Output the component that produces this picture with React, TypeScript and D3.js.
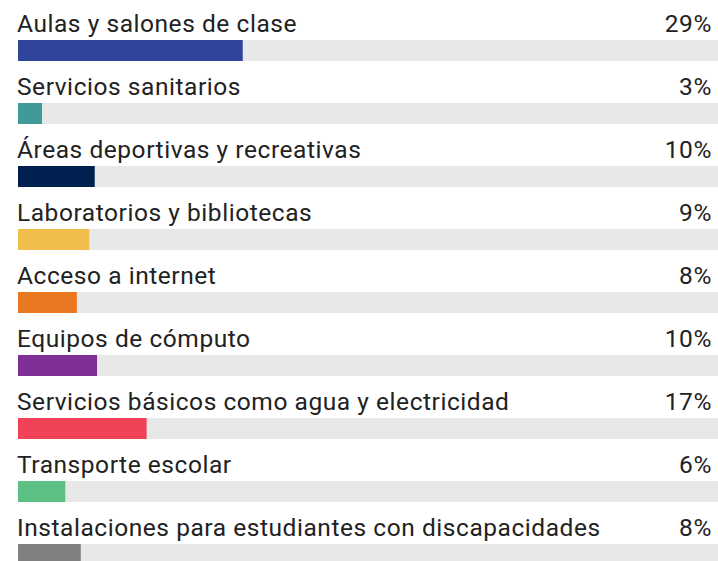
import React from "react";
import * as d3 from "d3";

const categories = [
  "Aulas y salones de clase",
  "Servicios sanitarios",
  "Áreas deportivas y recreativas",
  "Laboratorios y bibliotecas",
  "Acceso a internet",
  "Equipos de cómputo",
  "Servicios básicos como agua y electricidad",
  "Transporte escolar",
  "Instalaciones para estudiantes con discapacidades",
];
const values = [29.0, 3.1, 9.9, 9.2, 7.6, 10.2, 16.6, 6.1, 8.1];
const colors = [
  "#2f4599",
  "#419a9a",
  "#00204f",
  "#f0bd4a",
  "#e87722",
  "#7f2f95",
  "#f24257",
  "#5cbf83",
  "#808080",
];

const W = 718;
const H = 561;

export default function App() {
  const x = d3.scaleLinear().domain([0, 100]).range([18, 18 + 775]);
  const y = d3.scaleBand<string>().domain(categories).range([0, categories.length * 63]).padding(0);
  const fmt = (v: number) => d3.format(".0f")(v) + "%";
  return (
    <svg
      width={W}
      height={H}
      style={{ position: "absolute", left: 0, top: 0, display: "block", background: "#fff" }}
      fontFamily="Roboto, sans-serif"
    >
      {categories.map((c, i) => {
        const y0 = y(c) as number;
        return (
          <g key={c}>
            <text x={17} y={y0 + 32} fontSize={24.5} letterSpacing={0.55} fill="#222">
              {c}
            </text>
            <text x={712} y={y0 + 32} fontSize={24.5} letterSpacing={0.6} fill="#222" textAnchor="end">
              {fmt(values[i])}
            </text>
            <rect x={x(0)} y={y0 + 40} width={x(100) - x(0)} height={21} fill="#e8e8e8" />
            <rect x={x(0)} y={y0 + 40} width={x(values[i]) - x(0)} height={21} fill={colors[i]} />
          </g>
        );
      })}
    </svg>
  );
}
